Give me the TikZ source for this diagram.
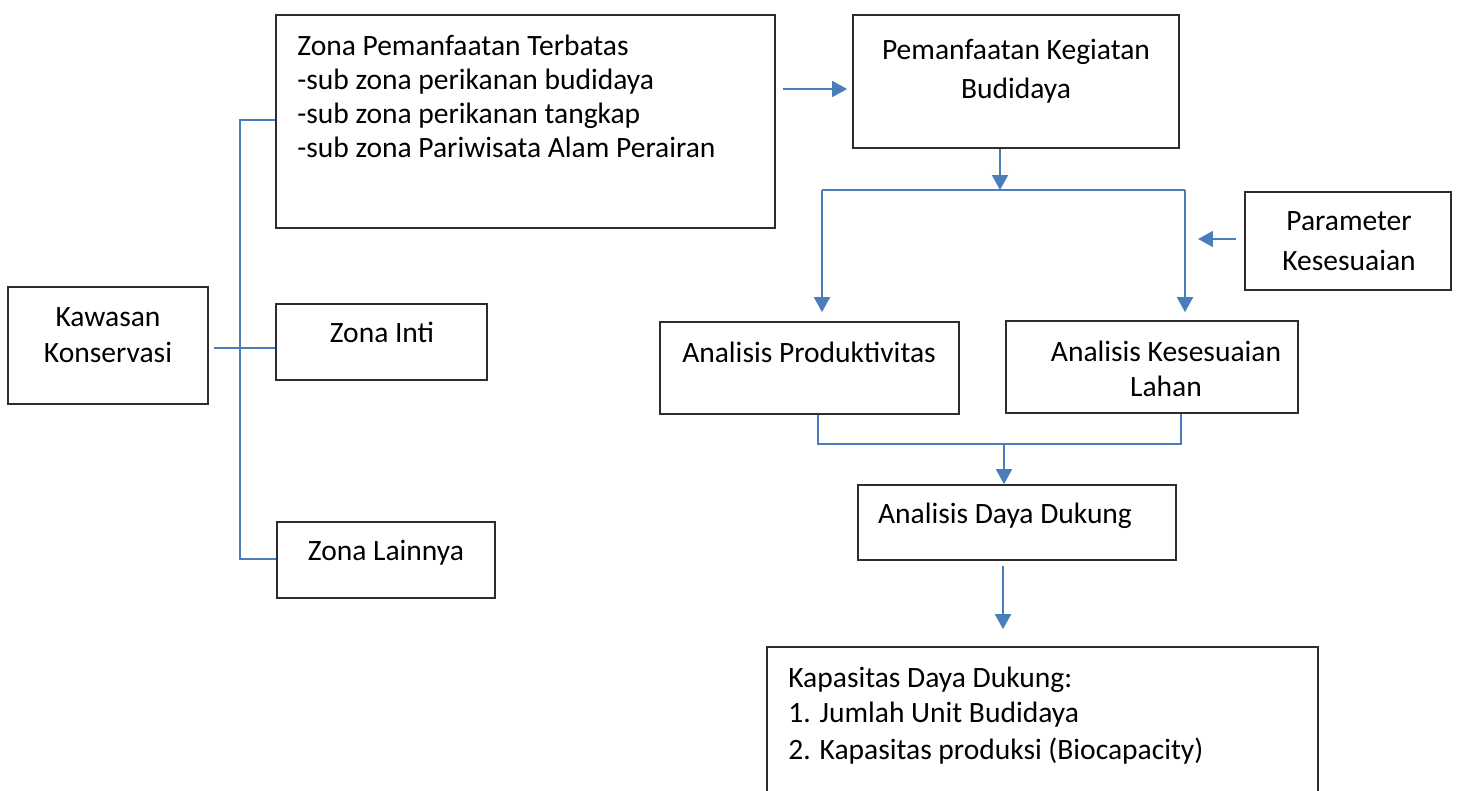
\documentclass[tikz,border=0pt]{standalone}
\usepackage{fontspec}
\setmainfont{Carlito}
\usetikzlibrary{arrows.meta,fit}

\definecolor{linkblue}{RGB}{74,126,187}
\definecolor{frame}{RGB}{45,45,45}

\tikzset{
  box/.style={draw=frame, line width=0.95pt, inner sep=0pt, fill=white},
  txt/.style={inner sep=0pt, anchor=base, font=\fontsize{16.8}{20}\selectfont},
  ltxt/.style={txt, anchor=base west},
  link/.style={draw=linkblue, line width=1.2pt},
  arr/.style={link, -{Triangle[length=8.5pt, width=9pt]}},
}

\begin{document}
\begin{tikzpicture}[x=0.02cm, y=-0.02cm]
  \useasboundingbox (0,0) rectangle (1458,791);
  \fill[white] (0,0) rectangle (1458,791);
  \clip (0,0) rectangle (1458,791);

  % boxes
  \node[box, fit={(8,287)(208,404)}] (kaw) {};
  \node[box, fit={(276,15)(775,228)}] (zpt) {};
  \node[box, fit={(276,304)(487,380)}] (inti) {};
  \node[box, fit={(277,522)(495,598)}] (lain) {};
  \node[box, fit={(853,15)(1179,148)}] (pkb) {};
  \node[box, fit={(1245,192)(1451,290)}] (param) {};
  \node[box, fit={(660,322)(959,414)}] (prod) {};
  \node[box, fit={(1006,321)(1298,413)}] (kes) {};
  \node[box, fit={(858,485)(1176,560)}] (dd) {};
  \node[box, fit={(767,647)(1318,810)}] (kap) {};

  % texts
  \node[txt] at (108,326) {Kawasan};
  \node[txt] at (108,362) {Konservasi};

  \node[ltxt] at (297,55) {Zona Pemanfaatan Terbatas};
  \node[ltxt] at (297,89) {-sub zona perikanan budidaya};
  \node[ltxt] at (297,123) {-sub zona perikanan tangkap};
  \node[ltxt] at (297,157) {-sub zona Pariwisata Alam Perairan};

  \node[txt] at (382,342) {Zona Inti};
  \node[txt] at (386,560) {Zona Lainnya};

  \node[txt] at (1016,59) {Pemanfaatan Kegiatan};
  \node[txt] at (1016,98) {Budidaya};

  \node[txt] at (1349,230) {Parameter};
  \node[txt] at (1349,270) {Kesesuaian};

  \node[txt] at (809,362) {Analisis Produktivitas};
  \node[txt] at (1166,361) {Analisis Kesesuaian};
  \node[txt] at (1166,396) {Lahan};

  \node[txt] at (1005,523) {Analisis Daya Dukung};

  \node[ltxt] at (788,687) {Kapasitas Daya Dukung:};
  \node[ltxt] at (788,722) {1. Jumlah Unit Budidaya};
  \node[ltxt] at (788,759) {2. Kapasitas produksi (Biocapacity)};

  % left bracket joining the zones
  \coordinate (jt) at (240,120);
  \coordinate (jm) at (240,348);
  \coordinate (jb) at (240,559);
  \draw[link] (jt -| zpt.west) -- (jt) -- (jb) -- (jb -| lain.west);
  \draw[link, shorten <=0.1cm] (kaw.east |- jm) -- (jm -| inti.west);

  % zone to activity
  \coordinate (za) at (0,89);
  \draw[arr, shorten <=0.14cm, shorten >=0.1cm] (zpt.east |- za) -- (pkb.west |- za);

  % split towards the two analyses
  \coordinate (split) at (1000,190);
  \coordinate (sl) at (822,190);
  \coordinate (sr) at (1185,190);
  \draw[arr] (split |- pkb.south) -- (split);
  \draw[link] (sl) -- (sr);
  \draw[arr, shorten >=0.18cm] (sl) -- (sl |- prod.north);
  \draw[arr, shorten >=0.16cm] (sr) -- (sr |- kes.north);

  % parameters feed the suitability analysis
  \coordinate (pin) at (1198,239);
  \draw[arr, shorten <=0.16cm] (param.west |- pin) -- (pin);

  % merge into carrying capacity analysis
  \coordinate (bl) at (818,444);
  \coordinate (br) at (1181,444);
  \coordinate (bm) at (1004,444);
  \draw[link] (prod.south -| bl) -- (bl) -- (br) -- (kes.south -| br);
  \draw[arr] (bm) -- (bm |- dd.north);

  % result
  \coordinate (dx) at (1003,0);
  \draw[arr, shorten <=0.1cm, shorten >=0.34cm] (dd.south -| dx) -- (kap.north -| dx);
\end{tikzpicture}
\end{document}
